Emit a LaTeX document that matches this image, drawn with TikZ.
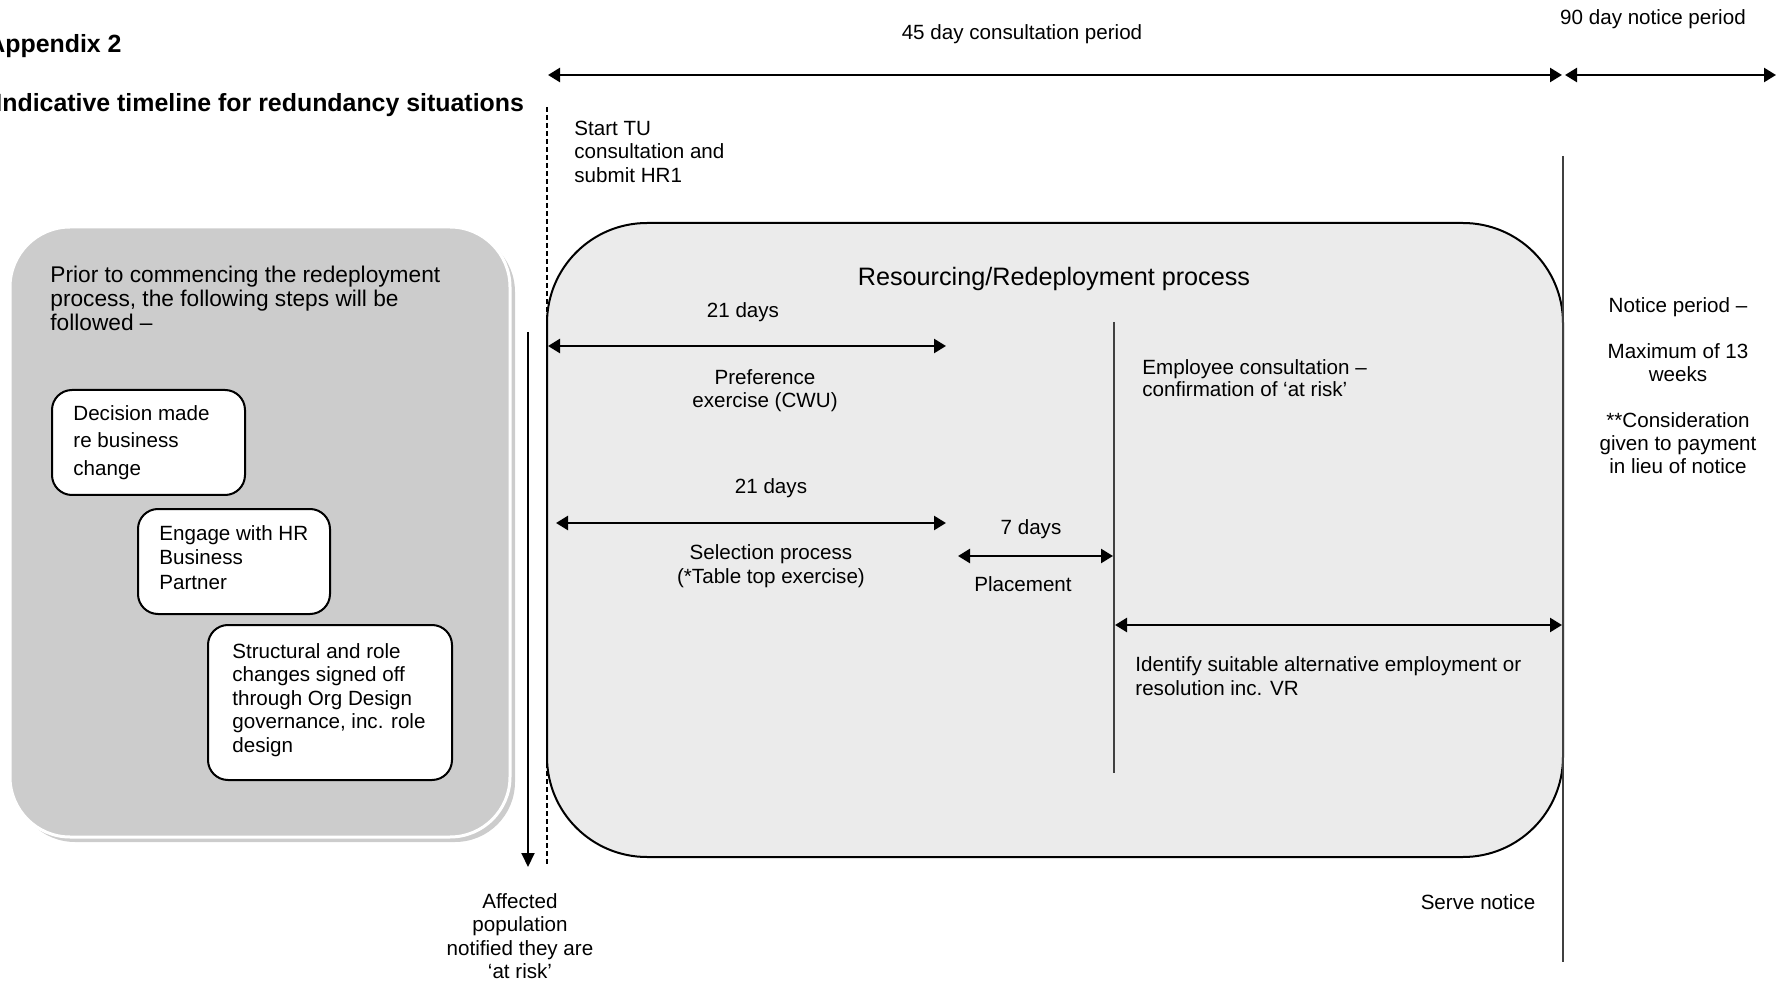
\documentclass[tikz,border=0pt]{standalone}
\usepackage{fontspec}
\setmainfont{Liberation Sans}
\usetikzlibrary{arrows.meta,shadows}
\definecolor{leftgray}{gray}{0.80}
\definecolor{rightgray}{gray}{0.92}
\begin{document}
\begin{tikzpicture}[x=0.5pt,y=-0.5pt,
  txt/.style={inner sep=0pt, font=\fontsize{10.3pt}{11.75pt}\selectfont},
  ttl/.style={inner sep=0pt, font=\fontsize{12.45pt}{14pt}\selectfont\bfseries},
  smallbox/.style={draw=black, line width=1pt, fill=white, rounded corners=10pt, inner sep=0pt},
  timearrow/.style={line width=1.25pt, <->, >={Triangle[length=6pt,width=7pt]}},
  thinline/.style={line width=0.7pt, draw=black!75},
  dashln/.style={line width=0.8pt, dash pattern=on 2.5pt off 1.5pt}]
\useasboundingbox (0,0) rectangle (1785,984);

% ---- titles
\node[ttl, anchor=base west] (app) at (-13,53) {Appendix 2};
\node[ttl, anchor=base west] (ind) at (-5,112) {Indicative timeline for redundancy situations};

% ---- top timeline
\node[txt] (cons45) at (1022,34) {45 day consultation period};
\node[txt] (not90) at (1653,19) {90 day notice period};
\coordinate (t45a) at (548,75);
\coordinate (t45b) at (1562,75);
\coordinate (t90a) at (1565,75);
\coordinate (t90b) at (1776,75);
\draw[timearrow] (t45a) -- (t45b);
\draw[timearrow] (t90a) -- (t90b);

% ---- left box
\node[fill=leftgray, draw=white, line width=1.5pt, rounded corners=30pt,
  minimum width=250pt, minimum height=305pt,
  drop shadow={shadow xshift=2.5pt, shadow yshift=-2.5pt, fill=leftgray, opacity=1}]
  (leftbox) at (260,532) {};
\node[inner sep=0pt, anchor=west, align=left, font=\fontsize{11.35pt}{12pt}\selectfont]
  (prior) at (50,298) {Prior to commencing the redeployment\\process, the following steps will be\\followed –};

\node[smallbox, minimum width=96.5pt, minimum height=52.5pt] (dec) at (148.5,442.5) {};
\node[txt, anchor=west, align=left, font=\fontsize{10.3pt}{13.75pt}\selectfont]
  (dectxt) at (73,442.5) {Decision made\\re business\\change};

\node[smallbox, minimum width=96pt, minimum height=52.5pt] (eng) at (234,561.5) {};
\node[txt, anchor=west, align=left, font=\fontsize{10.3pt}{12.25pt}\selectfont]
  (engtxt) at (159,557.5) {Engage with HR\\Business\\Partner};

\node[smallbox, minimum width=122pt, minimum height=77.5pt] (str) at (330,702.5) {};
\node[txt, anchor=west, align=left, font=\fontsize{10.3pt}{11.75pt}\selectfont]
  (strtxt) at (232,700) {Structural and role\\changes signed off\\through Org Design\\governance, inc. role\\design};

% ---- dashed start line and notification arrow
\coordinate (dtop) at (547,107);
\coordinate (dbot) at (547,867);
\draw[dashln] (dtop) -- (dbot);
\node[txt, anchor=west, align=left] (starttu) at (574,151.5)
  {Start TU\\consultation and\\submit HR1};
\coordinate (atop) at (528,332);
\coordinate (abot) at (528,867);
\draw[line width=1pt, -{Triangle[length=7pt,width=6.5pt]}] (atop) -- (abot);
\node[txt, align=center, font=\fontsize{10.3pt}{11.65pt}\selectfont] (aff) at (520,936)
  {Affected\\population\\notified they are\\‘at risk’};

% ---- right box
\node[draw=black, line width=1pt, fill=rightgray, rounded corners=50pt,
  minimum width=508pt, minimum height=317pt] (rightbox) at (1055,540) {};
\node[inner sep=0pt, font=\fontsize{12.6pt}{14pt}\selectfont] (res) at (1054,279)
  {Resourcing/Redeployment process};

% notice vertical line
\coordinate (nltop) at (1563,156);
\coordinate (nlbot) at (1563,962);
\draw[thinline] (nltop) -- (nlbot);

% placement vertical line
\coordinate (pltop) at (1114,322);
\coordinate (plbot) at (1114,773);
\draw[thinline] (pltop) -- (plbot);

% preference
\node[txt] (d21a) at (743,312) {21 days};
\coordinate (p1a) at (548,346);
\coordinate (p1b) at (946,346);
\draw[timearrow] (p1a) -- (p1b);
\node[txt, align=center, font=\fontsize{10.3pt}{11.5pt}\selectfont] (pref) at (765,391)
  {Preference\\exercise (CWU)};

% selection
\node[txt] (d21b) at (771,488) {21 days};
\coordinate (p2a) at (556,523);
\coordinate (p2b) at (946,523);
\draw[timearrow] (p2a) -- (p2b);
\node[txt, align=center] (sel) at (771,566)
  {Selection process\\(*Table top exercise)};

% placement
\node[txt] (d7) at (1031,529) {7 days};
\coordinate (p3a) at (958,556);
\coordinate (p3b) at (1113,556);
\draw[timearrow] (p3a) -- (p3b);
\node[txt] (plac) at (1023,584) {Placement};

% employee consultation
\node[txt, anchor=west, align=left, font=\fontsize{10.3pt}{11.25pt}\selectfont] (emp) at (1142,378)
  {Employee consultation –\\confirmation of ‘at risk’};
\coordinate (p4a) at (1115,625);
\coordinate (p4b) at (1562,625);
\draw[timearrow] (p4a) -- (p4b);
\node[txt, anchor=west, align=left] (ident) at (1135,676)
  {Identify suitable alternative employment or\\resolution inc. VR};

\node[txt] (serve) at (1478,902) {Serve notice};

% notice period text
\node[txt, align=center, font=\fontsize{10.3pt}{11.5pt}\selectfont] (notice) at (1678,386)
  {Notice period –\\[11.5pt]Maximum of 13\\weeks\\[11.5pt]**Consideration\\given to payment\\in lieu of notice};
\end{tikzpicture}
\end{document}
